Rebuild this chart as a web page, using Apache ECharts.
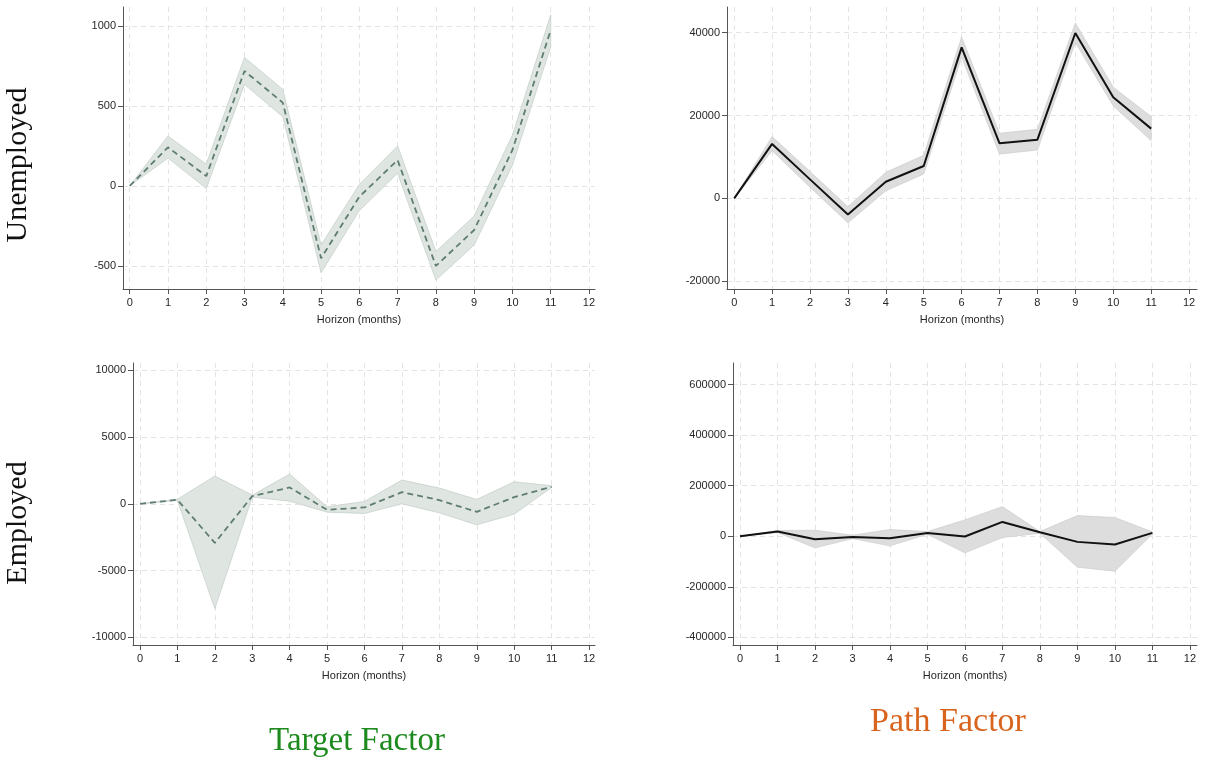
<!DOCTYPE html>
<html>
<head>
<meta charset="utf-8">
<script src="https://cdn.jsdelivr.net/npm/echarts@6/dist/echarts.min.js"></script>
<style>
  html, body { margin: 0; padding: 0; background: #ffffff; }
  #chart { width: 1231px; height: 757px; }
</style>
</head>
<body>
<div id="chart"></div>
<script>
// Horizons (months) and axis tick values
const horizon = [0, 1, 2, 3, 4, 5, 6, 7, 8, 9, 10, 11];
const xTicks = [0, 1, 2, 3, 4, 5, 6, 7, 8, 9, 10, 11, 12];

// Target factor, unemployed: estimate and confidence band
const tuEst = [0, 242, 62, 719, 521, -452, -67, 162, -500, -275, 225, 975];
const tuLo  = [0, 175, -15, 635, 433, -542, -154, 79, -588, -369, 131, 871];
const tuHi  = [0, 312, 137, 804, 604, -369, 10, 250, -410, -188, 319, 1069];
const tuTicks = [-500, 0, 500, 1000];

// Path factor, unemployed
const puEst = [0, 13150, 4600, -3870, 4030, 7820, 36450, 13300, 14190, 39920, 24430, 16850];
const puLo  = [0, 11530, 2700, -5890, 1850, 5890, 34110, 10720, 11690, 37660, 22340, 13950];
const puHi  = [0, 14920, 6500, -2020, 6290, 10400, 38950, 15720, 16690, 42340, 26850, 19760];
const puTicks = [-20000, 0, 20000, 40000];

// Target factor, employed
const teEst = [0, 300, -2925, 575, 1225, -450, -275, 875, 275, -600, 500, 1275];
const teLo  = [0, 260, -7850, 500, 200, -625, -725, 0, -675, -1575, -775, 1225];
const teHi  = [0, 340, 2075, 650, 2225, -225, 175, 1775, 1175, 325, 1650, 1350];
const teTicks = [-10000, -5000, 0, 5000, 10000];

// Path factor, employed
const peEst = [0, 18400, -11840, -2630, -7900, 13160, -1300, 56580, 15790, -22370, -32900, 13160];
const peLo  = [0, 14500, -46050, -9200, -38150, 7900, -65790, -5260, 11840, -122370, -138160, 9210];
const peHi  = [0, 22400, 23700, 3950, 26300, 18400, 64470, 117100, 18400, 81580, 73680, 17100];
const peTicks = [-400000, -200000, 0, 200000, 400000, 600000];

const rowLabels = ['Unemployed', 'Employed'];
const colLabels = ['Target Factor', 'Path Factor'];
const xTitle = 'Horizon (months)';

const AXIS_COLOR = '#555555';
const GRID_COLOR = '#e4e4e4';
const TEXT_COLOR = '#262626';
const SANS = '"Liberation Sans", Arial, sans-serif';
const SERIF = '"Liberation Serif", "DejaVu Serif", serif';

// Panel layout: plot box in pixels and axis extents
const panels = [
  { left: 123, right: 595, top: 7,   bottom: 289, xMin: -0.175, xMax: 12.157, yMin: -644,    yMax: 1119,   yTicks: tuTicks, est: tuEst, lo: tuLo, hi: tuHi, style: 'target' },
  { left: 727, right: 1197, top: 7,  bottom: 289, xMin: -0.19,  xMax: 12.21,  yMin: -21860,  yMax: 46200,  yTicks: puTicks, est: puEst, lo: puLo, hi: puHi, style: 'path' },
  { left: 133, right: 595, top: 363, bottom: 645, xMin: -0.187, xMax: 12.16,  yMin: -10576,  yMax: 10546,  yTicks: teTicks, est: teEst, lo: teLo, hi: teHi, style: 'target' },
  { left: 733, right: 1197, top: 363, bottom: 645, xMin: -0.187, xMax: 12.19, yMin: -430400, yMax: 685400, yTicks: peTicks, est: peEst, lo: peLo, hi: peHi, style: 'path' }
];

const styles = {
  target: { band: '#dfe6e2', edge: '#c6d0ca', line: '#5f7d72', dash: [6, 4], width: 1.8 },
  path:   { band: '#dddddd', edge: '#cfcfcf', line: '#111111', dash: 'solid', width: 2 }
};

const W = 1231, H = 757;
const grid = [], xAxis = [], yAxis = [], series = [];
const plainNumber = v => String(v);

panels.forEach((p, i) => {
  const st = styles[p.style];
  grid.push({ left: p.left, top: p.top, width: p.right - p.left, height: p.bottom - p.top, containLabel: false });
  xAxis.push({
    type: 'value', gridIndex: i, min: p.xMin, max: p.xMax,
    name: xTitle, nameLocation: 'middle', nameGap: 25,
    nameTextStyle: { fontFamily: SANS, fontSize: 11, color: TEXT_COLOR },
    axisLine: { show: true, onZero: false, lineStyle: { color: AXIS_COLOR, width: 1 } },
    axisTick: { show: true, length: 5, lineStyle: { color: AXIS_COLOR }, customValues: xTicks },
    axisLabel: { customValues: xTicks, formatter: plainNumber, fontFamily: SANS, fontSize: 11, color: TEXT_COLOR, margin: 8 },
    splitLine: { show: true, lineStyle: { color: GRID_COLOR, type: [5, 4], width: 1 } }
  });
  yAxis.push({
    type: 'value', gridIndex: i, min: p.yMin, max: p.yMax,
    axisLine: { show: true, onZero: false, lineStyle: { color: AXIS_COLOR, width: 1 } },
    axisTick: { show: true, length: 5, lineStyle: { color: AXIS_COLOR }, customValues: p.yTicks },
    axisLabel: { customValues: p.yTicks, formatter: plainNumber, fontFamily: SANS, fontSize: 11, color: TEXT_COLOR, margin: 7 },
    splitLine: { show: true, lineStyle: { color: GRID_COLOR, type: [5, 4], width: 1 } }
  });

  // confidence band: one polygon running along the upper bound and back along the lower bound
  series.push({
    type: 'custom', xAxisIndex: i, yAxisIndex: i, z: 1, silent: true,
    data: horizon.map((h, k) => [h, p.lo[k], p.hi[k]]),
    encode: { x: 0, y: [1, 2] },
    renderItem: (params, api) => {
      if (params.dataIndex !== 0) return null;
      const upper = horizon.map((h, k) => api.coord([h, p.hi[k]]));
      const lower = horizon.map((h, k) => api.coord([h, p.lo[k]])).reverse();
      return {
        type: 'polygon',
        shape: { points: upper.concat(lower) },
        style: { fill: st.band, stroke: st.edge, lineWidth: 0.8 }
      };
    }
  });
  // point estimate
  series.push({
    type: 'line', xAxisIndex: i, yAxisIndex: i,
    data: horizon.map((h, k) => [h, p.est[k]]),
    symbol: 'none', z: 3,
    lineStyle: { color: st.line, width: st.width, type: st.dash }
  });
});

const graphic = [
  { type: 'text', x: 18, y: 165, rotation: Math.PI / 2,
    style: { text: rowLabels[0], fontFamily: SERIF, fontSize: 30, fill: '#111111', align: 'center', verticalAlign: 'middle' } },
  { type: 'text', x: 18, y: 523, rotation: Math.PI / 2,
    style: { text: rowLabels[1], fontFamily: SERIF, fontSize: 30, fill: '#111111', align: 'center', verticalAlign: 'middle' } },
  { type: 'text', x: 357, y: 741,
    style: { text: colLabels[0], fontFamily: SERIF, fontSize: 33, fill: '#1d8a1d', align: 'center', verticalAlign: 'middle' } },
  { type: 'text', x: 948, y: 722,
    style: { text: colLabels[1], fontFamily: SERIF, fontSize: 34, fill: '#d9641e', align: 'center', verticalAlign: 'middle' } }
];

const chart = echarts.init(document.getElementById('chart'), null, { renderer: 'canvas', width: W, height: H });
chart.setOption({
  backgroundColor: '#ffffff',
  animation: false,
  grid, xAxis, yAxis, series, graphic
});
</script>
</body>
</html>
